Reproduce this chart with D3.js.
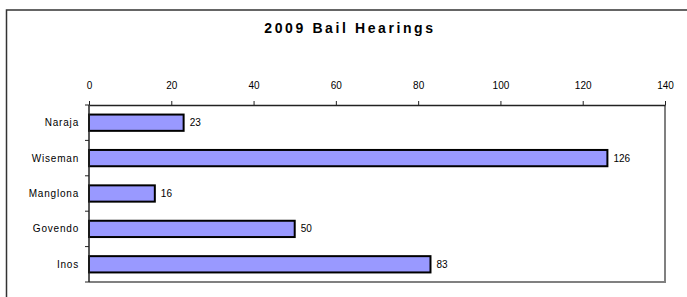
<!DOCTYPE html>
<html>
<head>
<meta charset="utf-8">
<script src="https://cdn.jsdelivr.net/npm/d3@7"></script>
<style>
  body { margin: 0; background: #fff; }
  svg text { font-family: "Liberation Sans", Arial, sans-serif; fill: #000; }
</style>
</head>
<body>
<div class="chart"></div>
<script>
// chart data
var names = ['Naraja', 'Wiseman', 'Manglona', 'Govendo', 'Inos'];
var hearings = [23, 126, 16, 50, 83];
var xTicks = [0, 20, 40, 60, 80, 100, 120, 140];
var chartTitle = '2009 Bail Hearings';

var W = 687, H = 297;
var margin = {top: 105, right: 22, bottom: 15, left: 89},
    width = W - margin.left - margin.right,
    height = H - margin.top - margin.bottom;

var svg = d3.select('.chart').append('svg')
    .attr('width', W)
    .attr('height', H);

// outer chart frame (runs off the right and bottom edge)
svg.append('rect')
    .attr('x', 6.5).attr('y', 10)
    .attr('width', W + 20).attr('height', H + 20)
    .attr('fill', 'none')
    .attr('stroke', '#333')
    .attr('stroke-width', 1.5);

svg.append('text')
    .text(chartTitle)
    .attr('x', 350)
    .attr('y', 33)
    .style('text-anchor', 'middle')
    .style('font-weight', 'bold')
    .style('font-size', '14px')
    .style('letter-spacing', '2.6px');

var g = svg.append('g')
    .attr('transform', 'translate(' + margin.left + ',' + margin.top + ')');

var x = d3.scaleLinear().domain([0, 140]).range([0, width]);
var y = d3.scaleBand().domain(names).range([0, height]).paddingInner(0.54).paddingOuter(0.27);

// right and bottom plot border in grey
g.append('path')
    .attr('d', 'M' + width + ',0V' + height + 'H0')
    .attr('fill', 'none')
    .attr('stroke', '#808080')
    .attr('stroke-width', 2);

var data = names.map(function(d, i) { return {name: d, value: hearings[i]}; });

g.selectAll('.bar')
    .data(data)
    .enter().append('rect')
    .attr('class', 'bar')
    .attr('x', 0)
    .attr('y', function(d) { return y(d.name); })
    .attr('width', function(d) { return x(d.value); })
    .attr('height', y.bandwidth())
    .attr('fill', '#9999ff')
    .attr('stroke', '#000')
    .attr('stroke-width', 2);

g.selectAll('.val')
    .data(data)
    .enter().append('text')
    .attr('class', 'val')
    .attr('x', function(d) { return x(d.value) + 6; })
    .attr('y', function(d) { return y(d.name) + y.bandwidth() / 2; })
    .attr('dy', '0.35em')
    .style('font-size', '10px')
    .text(function(d) { return d.value; });

// top value axis
var xAxis = d3.axisTop(x).tickValues(xTicks).tickSize(4).tickSizeOuter(0).tickPadding(12);
var gx = g.append('g').call(xAxis);
gx.select('.domain').attr('stroke', '#222').attr('stroke-width', 1.5);
gx.selectAll('.tick line').attr('stroke', '#222');
gx.selectAll('.tick text').style('font-size', '10px').attr('font-family', null);

// left category axis, ticks sit between categories
var bounds = d3.range(names.length + 1).map(function(i) { return i * height / names.length; });
g.append('line')
    .attr('x1', 0).attr('x2', 0)
    .attr('y1', 0).attr('y2', height)
    .attr('stroke', '#222').attr('stroke-width', 1.5);
g.selectAll('.ytick')
    .data(bounds)
    .enter().append('line')
    .attr('x1', -4).attr('x2', 0)
    .attr('y1', function(d) { return d; }).attr('y2', function(d) { return d; })
    .attr('stroke', '#222');

g.selectAll('.cat')
    .data(names)
    .enter().append('text')
    .attr('class', 'cat')
    .attr('x', -10)
    .attr('y', function(d) { return y(d) + y.bandwidth() / 2; })
    .attr('dy', '0.35em')
    .style('text-anchor', 'end')
    .style('font-size', '10px')
    .style('letter-spacing', '0.8px')
    .text(function(d) { return d; });
</script>
</body>
</html>
